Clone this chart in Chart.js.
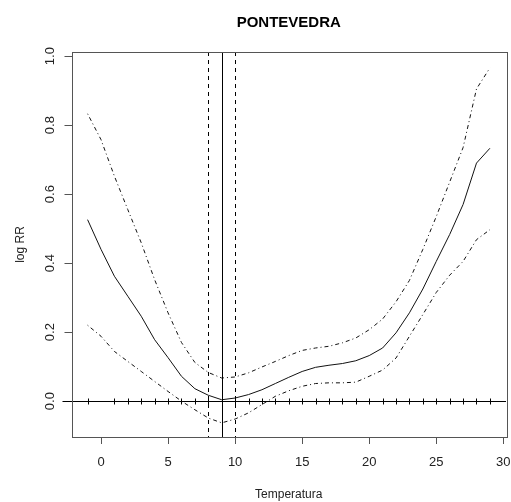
<!DOCTYPE html>
<html>
<head>
<meta charset="utf-8">
<script src="https://cdn.jsdelivr.net/npm/chart.js@4.4.0/dist/chart.umd.min.js"></script>
<style>
  body { margin: 0; background: #fff; }
</style>
</head>
<body>
<canvas id="rr_chart" width="511" height="502"></canvas>
<script>
// temperature grid and estimated curve (log RR) with confidence band
var temps = [-1, 0, 1, 2, 3, 4, 5, 6, 7, 8, 9, 10, 11, 12, 13, 14, 15, 16, 17, 18, 19, 20, 21, 22, 23, 24, 25, 26, 27, 28, 29];
var logRR = [0.526, 0.44, 0.362, 0.304, 0.246, 0.178, 0.126, 0.072, 0.036, 0.017, 0.004, 0.009, 0.019, 0.033, 0.051, 0.069, 0.086, 0.098, 0.104, 0.109, 0.117, 0.132, 0.154, 0.198, 0.256, 0.325, 0.405, 0.483, 0.57, 0.69, 0.733];
var upper = [0.833, 0.758, 0.652, 0.555, 0.459, 0.352, 0.256, 0.17, 0.112, 0.083, 0.067, 0.07, 0.082, 0.099, 0.115, 0.132, 0.147, 0.154, 0.159, 0.169, 0.183, 0.207, 0.238, 0.288, 0.35, 0.44, 0.535, 0.635, 0.735, 0.905, 0.966];
var lower = [0.22, 0.188, 0.144, 0.115, 0.086, 0.057, 0.028, 0.0, -0.025, -0.049, -0.063, -0.052, -0.034, -0.01, 0.014, 0.03, 0.043, 0.051, 0.053, 0.053, 0.055, 0.072, 0.09, 0.125, 0.188, 0.251, 0.315, 0.365, 0.405, 0.468, 0.497];

// minimum mortality temperature and its interval
var mmt = 9;
var mmtCI = [8, 10];
// rug marks on the zero line
var rugTemps = [-1, 1, 2, 3, 4, 5, 6, 7, 8, 9, 10, 11, 12, 13, 14, 15, 16, 17, 18, 19, 20, 21, 22, 23, 24, 25, 26, 27, 28, 29];

var xTicks = [0, 5, 10, 15, 20, 25, 30];
var yTicks = [0, 0.2, 0.4, 0.6, 0.8, 1.0];

function pts(ys) {
  return temps.map(function (t, i) { return { x: t, y: ys[i] }; });
}

var fontName = "'Liberation Sans', Arial, sans-serif";

var extras = {
  id: 'extras',
  afterDatasetsDraw: function (chart) {
    var ctx = chart.ctx;
    var a = chart.chartArea;
    var xs = chart.scales.x, ys = chart.scales.y;
    ctx.save();
    ctx.strokeStyle = '#000';
    ctx.lineWidth = 1;
    // MMT line
    var px = Math.round(xs.getPixelForValue(mmt)) + 0.5;
    ctx.beginPath(); ctx.moveTo(px, a.top); ctx.lineTo(px, a.bottom); ctx.stroke();
    // interval lines
    ctx.setLineDash([4, 4]);
    mmtCI.forEach(function (v) {
      var p = Math.round(xs.getPixelForValue(v)) + 0.5;
      ctx.beginPath(); ctx.moveTo(p, a.top); ctx.lineTo(p, a.bottom); ctx.stroke();
    });
    ctx.setLineDash([]);
    // zero line
    var y0 = Math.round(ys.getPixelForValue(0)) + 0.5;
    ctx.beginPath(); ctx.moveTo(a.left - 9, y0); ctx.lineTo(a.right, y0); ctx.stroke();
    // rug
    rugTemps.forEach(function (t) {
      var p = Math.round(xs.getPixelForValue(t)) + 0.5;
      ctx.beginPath(); ctx.moveTo(p, y0 - 3); ctx.lineTo(p, y0 + 3); ctx.stroke();
    });
    // box
    ctx.strokeStyle = '#555';
    ctx.strokeRect(Math.round(a.left) + 0.5, Math.round(a.top) + 0.5, Math.round(a.right - a.left), Math.round(a.bottom - a.top));
    ctx.restore();
  }
};

const ctx_rr = document.getElementById('rr_chart').getContext('2d');
const rrChart = new Chart(ctx_rr, {
  type: 'line',
  data: {
    datasets: [
      { data: pts(upper), borderColor: '#111', borderWidth: 1, borderDash: [1, 3, 4, 3], pointRadius: 0, fill: false },
      { data: pts(logRR), borderColor: '#111', borderWidth: 1, pointRadius: 0, fill: false },
      { data: pts(lower), borderColor: '#111', borderWidth: 1, borderDash: [1, 3, 4, 3], pointRadius: 0, fill: false }
    ]
  },
  options: {
    responsive: false,
    animation: false,
    events: [],
    layout: { padding: { left: 0, right: 5, top: 0, bottom: 0 } },
    plugins: {
      legend: { display: false },
      tooltip: { enabled: false },
      title: {
        display: true,
        text: 'PONTEVEDRA',
        fullSize: false,
        color: '#000',
        font: { family: fontName, size: 15, weight: 'bold' },
        padding: { top: 14, bottom: 20 }
      }
    },
    scales: {
      x: {
        type: 'linear',
        min: -2.2,
        max: 30.2,
        afterBuildTicks: function (s) { s.ticks = xTicks.map(function (v) { return { value: v }; }); },
        afterFit: function (s) { s.height = 65; s.paddingLeft = 0; s.paddingRight = 0; },
        grid: { drawOnChartArea: false, drawTicks: true, tickLength: 7, color: '#555' },
        border: { display: false },
        ticks: { color: '#222', padding: 11, maxRotation: 0, font: { family: fontName, size: 13 } },
        title: { display: true, text: 'Temperatura', color: '#222', padding: { top: 0, bottom: 0 }, font: { family: fontName, size: 12 } }
      },
      y: {
        type: 'linear',
        min: -0.104,
        max: 1.012,
        afterBuildTicks: function (s) { s.ticks = yTicks.map(function (v) { return { value: v }; }); },
        afterFit: function (s) { s.width = 71.5; s.paddingTop = 0; s.paddingBottom = 0; },
        grid: { drawOnChartArea: false, drawTicks: true, tickLength: 7, color: '#555' },
        border: { display: false },
        ticks: {
          color: '#222', padding: 5, minRotation: 90, maxRotation: 90, crossAlign: 'center',
          font: { family: fontName, size: 13 },
          callback: function (v) { return v.toFixed(1); }
        },
        title: { display: true, text: 'log RR', color: '#222', padding: { top: 13, bottom: 0 }, font: { family: fontName, size: 12 } }
      }
    }
  },
  plugins: [extras]
});
</script>
</body>
</html>
